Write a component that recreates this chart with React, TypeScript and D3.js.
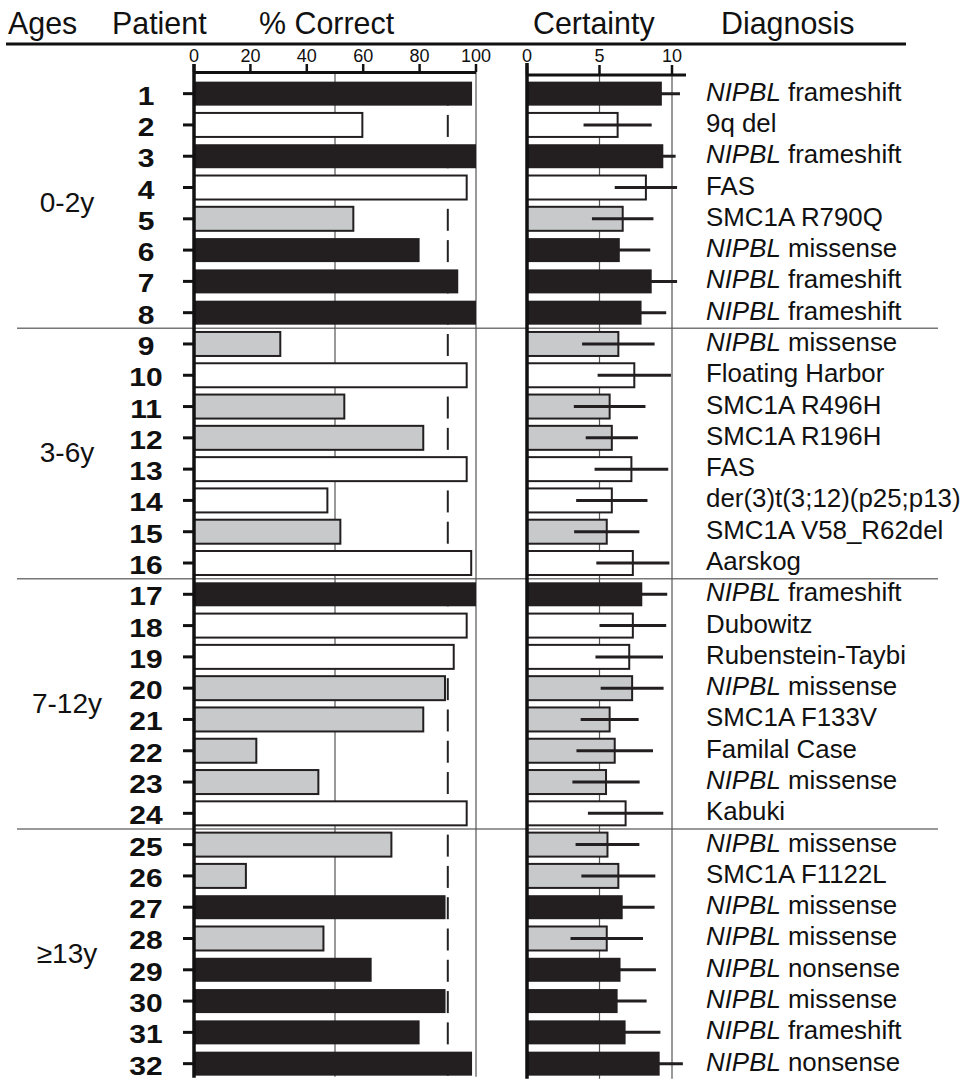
import React from 'react';
import * as d3 from 'd3';

const patients = ['1', '2', '3', '4', '5', '6', '7', '8', '9', '10', '11', '12', '13', '14', '15', '16',
  '17', '18', '19', '20', '21', '22', '23', '24', '25', '26', '27', '28', '29', '30', '31', '32'];

const pctCorrect = [98.6, 59.7, 100, 96.7, 56.5, 80, 93.7, 100, 30.6, 96.7, 53.3, 81.3, 96.7, 47.3, 51.9, 98.3,
  100, 96.7, 92.1, 89, 81.3, 22.1, 44.1, 96.7, 70, 18.4, 89.2, 45.9, 63, 89.2, 80, 98.6];

const certainty = [9.3, 6.25, 9.4, 8.2, 6.6, 6.4, 8.6, 7.9, 6.3, 7.4, 5.7, 5.85, 7.2, 5.85, 5.5, 7.3,
  7.95, 7.3, 7.05, 7.25, 5.7, 6.05, 5.45, 6.8, 5.55, 6.3, 6.6, 5.5, 6.45, 6.25, 6.8, 9.15];

const certaintyErr = [1.25, 2.35, 0.85, 2.15, 2.12, 2.1, 1.75, 1.7, 2.5, 2.53, 2.47, 1.8, 2.54, 2.46, 2.25, 2.52,
  1.72, 2.3, 2.33, 2.17, 2.0, 2.64, 2.32, 2.6, 2.2, 2.55, 2.2, 2.5, 2.44, 2.0, 2.4, 1.6];

// classic CdLS = black, mild = grey, other syndrome = white
const phenotype = ['classic', 'other', 'classic', 'other', 'mild', 'classic', 'classic', 'classic',
  'mild', 'other', 'mild', 'mild', 'other', 'other', 'mild', 'other',
  'classic', 'other', 'other', 'mild', 'mild', 'mild', 'mild', 'other',
  'mild', 'mild', 'classic', 'mild', 'classic', 'classic', 'classic', 'classic'];

const diagnosis = ['NIPBL frameshift', '9q del', 'NIPBL frameshift', 'FAS', 'SMC1A R790Q', 'NIPBL missense',
  'NIPBL frameshift', 'NIPBL frameshift', 'NIPBL missense', 'Floating Harbor', 'SMC1A R496H', 'SMC1A R196H',
  'FAS', 'der(3)t(3;12)(p25;p13)', 'SMC1A V58_R62del', 'Aarskog', 'NIPBL frameshift', 'Dubowitz',
  'Rubenstein-Taybi', 'NIPBL missense', 'SMC1A F133V', 'Familal Case', 'NIPBL missense', 'Kabuki',
  'NIPBL missense', 'SMC1A F1122L', 'NIPBL missense', 'NIPBL missense', 'NIPBL nonsense', 'NIPBL missense',
  'NIPBL frameshift', 'NIPBL nonsense'];

const ageLabels = ['0-2y', '3-6y', '7-12y', '≥13y'];
const ageFirst = ['1', '9', '17', '25'];
const ageLast = ['8', '16', '24', '32'];

const headers = ['Ages', 'Patient', '% Correct', 'Certainty', 'Diagnosis'];

const pctTicks = [0, 20, 40, 60, 80, 100];
const pctGrid = [50, 100];
const pctCutoff = 90;
const certTicks = [0, 5, 10];
const certGrid = [5, 10];

const fill = { classic: '#231f20', mild: '#c8c9cb', other: '#ffffff' };
const font = '"Liberation Sans", Arial, Helvetica, sans-serif';
const headerX = [8, 112, 259, 533, 721];

export default function App() {
  const width = 966;
  const height = 1082;

  const y = d3.scaleBand()
    .domain(patients)
    .range([78, 1079.3])
    .paddingInner(0.233)
    .paddingOuter(0.1165);
  const bw = y.bandwidth();
  const cy = (p) => y(p) + bw / 2;
  const step = y.step();

  const xPct = d3.scaleLinear().domain([0, 100]).range([194, 476]);
  const xCert = d3.scaleLinear().domain([0, 10]).range([527, 672]);

  const rows = patients.map((p, i) => ({
    p, pct: pctCorrect[i], cert: certainty[i], err: certaintyErr[i],
    type: phenotype[i], diag: diagnosis[i],
  }));

  const bottom = y(patients[patients.length - 1]) + bw;

  return (
    <svg width={width} height={height} style={{ position: 'absolute', left: 0, top: 0, background: '#fff' }}
      fontFamily={font}>
      {/* header */}
      <g fontSize={32} fill="#111">
        {headers.map((h, i) => (
          <text key={h} transform={`translate(${headerX[i]},34) scale(0.95,1)`}>{h}</text>
        ))}
      </g>
      <line x1={6} x2={906} y1={44} y2={44} stroke="#111" strokeWidth={3} />

      {/* age group separators */}
      {ageLast.slice(0, -1).map(p => (
        <line key={p} x1={17} x2={938} y1={cy(p) + step / 2} y2={cy(p) + step / 2}
          stroke="#777" strokeWidth={1.5} />
      ))}

      {/* % correct panel */}
      {pctGrid.map(v => (
        <line key={v} x1={xPct(v)} x2={xPct(v)} y1={72} y2={bottom + 1} stroke="#555" strokeWidth={1.2} />
      ))}
      {rows.map(r => (
        <line key={'d' + r.p} x1={xPct(pctCutoff)} x2={xPct(pctCutoff)} y1={cy(r.p) - 10} y2={cy(r.p) + 12}
          stroke="#222" strokeWidth={2} />
      ))}
      {rows.map(r => (
        <rect key={'b' + r.p} x={xPct(0)} y={y(r.p)} width={xPct(r.pct) - xPct(0)} height={bw}
          fill={fill[r.type]} stroke="#231f20" strokeWidth={r.type === 'classic' ? 0 : 2} />
      ))}
      <line x1={xPct(0)} x2={xPct(100)} y1={72.5} y2={72.5} stroke="#111" strokeWidth={3} />
      <line x1={xPct(0)} x2={xPct(0)} y1={64} y2={bottom + 2} stroke="#111" strokeWidth={3.5} />
      {pctTicks.map(v => (
        <g key={v}>
          <line x1={xPct(v)} x2={xPct(v)} y1={64} y2={72} stroke="#111" strokeWidth={2.5} />
          <text x={xPct(v)} y={62} fontSize={18} textAnchor="middle" fill="#111">{v}</text>
        </g>
      ))}
      {rows.map(r => (
        <line key={'t' + r.p} x1={183} x2={xPct(0)} y1={cy(r.p)} y2={cy(r.p)} stroke="#111" strokeWidth={3} />
      ))}

      {/* patient numbers */}
      {rows.map(r => (
        <text key={'n' + r.p} transform={`translate(146,${cy(r.p) + 11}) scale(1.2,1)`} fontSize={25}
          fontWeight="bold" textAnchor="middle" fill="#111">{r.p}</text>
      ))}

      {/* age labels */}
      {ageLabels.map((a, i) => (
        <text key={a} x={67} y={(cy(ageFirst[i]) + cy(ageLast[i])) / 2 + 9} fontSize={28}
          textAnchor="middle" fill="#111">{a}</text>
      ))}

      {/* certainty panel */}
      {certGrid.map(v => (
        <line key={v} x1={xCert(v)} x2={xCert(v)} y1={75} y2={bottom + 3} stroke="#555" strokeWidth={1.2} />
      ))}
      {rows.map(r => (
        <rect key={'c' + r.p} x={xCert(0)} y={y(r.p)} width={xCert(r.cert) - xCert(0)} height={bw}
          fill={fill[r.type]} stroke="#231f20" strokeWidth={r.type === 'classic' ? 0 : 2} />
      ))}
      {rows.map(r => (
        <line key={'e' + r.p} x1={xCert(r.cert - r.err)} x2={xCert(r.cert + r.err)} y1={cy(r.p)} y2={cy(r.p)}
          stroke="#231f20" strokeWidth={3} />
      ))}
      <line x1={xCert(0)} x2={686} y1={75} y2={75} stroke="#111" strokeWidth={3} />
      <line x1={xCert(0)} x2={xCert(0)} y1={63} y2={bottom + 3} stroke="#111" strokeWidth={3.5} />
      {certTicks.map(v => (
        <g key={v}>
          <line x1={xCert(v)} x2={xCert(v)} y1={65} y2={75} stroke="#111" strokeWidth={2.5} />
          <text x={xCert(v)} y={62} fontSize={18} textAnchor="middle" fill="#111">{v}</text>
        </g>
      ))}

      {/* diagnosis */}
      {rows.map(r => {
        const gene = r.diag.startsWith('NIPBL ');
        return (
          <text key={'g' + r.p} transform={`translate(706,${cy(r.p) + 7}) scale(1.035,1)`} fontSize={25}
            fill="#111">
            {gene ? <tspan fontStyle="italic">NIPBL</tspan> : null}
            {gene ? ' ' + r.diag.slice(6) : r.diag}
          </text>
        );
      })}
    </svg>
  );
}
